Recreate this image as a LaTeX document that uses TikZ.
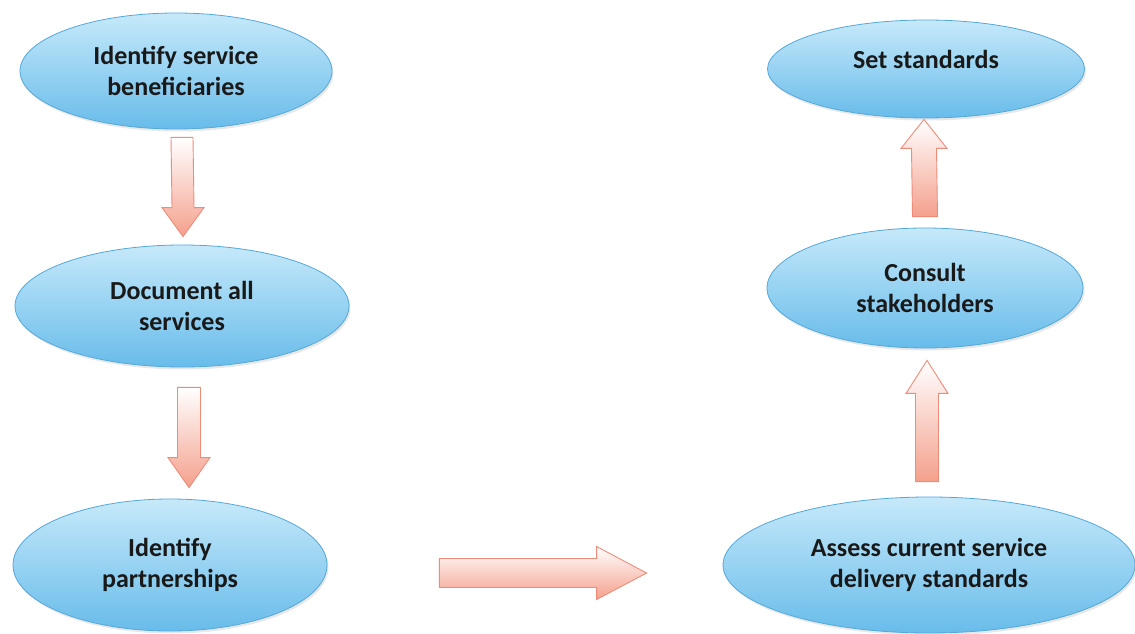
\documentclass[tikz,border=0pt]{standalone}
\usepackage{fontspec}
\setmainfont{Carlito}
\usetikzlibrary{shapes.geometric,calc,shadows}
\definecolor{eltop}{RGB}{198,233,250}
\definecolor{elbot}{RGB}{104,188,234}
\definecolor{elline}{RGB}{84,168,218}
\definecolor{arrfill}{RGB}{244,160,140}
\definecolor{arrline}{RGB}{238,140,122}
\definecolor{txt}{RGB}{25,25,25}
\tikzset{
  oval/.style={ellipse, draw=elline, line width=0.8pt, top color=eltop, bottom color=elbot,
    inner sep=0pt, align=center, text=txt, font=\bfseries\fontsize{26}{31}\selectfont,
    drop shadow={opacity=0.18, shadow xshift=1.5pt, shadow yshift=-2.5pt}},
  fatarrow/.style={draw=arrline, line width=0.9pt, line join=miter, top color=white, bottom color=arrfill},
  fatarrowb/.style={draw=arrline, line width=0.9pt, line join=miter, top color=white, middle color=white, bottom color=arrfill},
}
% #1 start, #2 tip, #3 shaft half width, #4 head half width, #5 head length
\newcommand\fatdown[6][fatarrow]{\path[#1] ($(#2)+(-#4,0)$) -- ($(#2)+(#4,0)$) -- ($(#3)+(#4,-#6)$) -- ($(#3)+(#5,-#6)$) -- (#3) -- ($(#3)+(-#5,-#6)$) -- ($(#3)+(-#4,-#6)$) -- cycle;}
\newcommand\fatup[6][fatarrow]{\path[#1] ($(#2)+(-#4,0)$) -- ($(#2)+(#4,0)$) -- ($(#3)+(#4,#6)$) -- ($(#3)+(#5,#6)$) -- (#3) -- ($(#3)+(-#5,#6)$) -- ($(#3)+(-#4,#6)$) -- cycle;}
\newcommand\fatright[6][fatarrow]{\path[#1] ($(#2)+(0,-#4)$) -- ($(#3)+(-#6,-#4)$) -- ($(#3)+(-#6,-#5)$) -- (#3) -- ($(#3)+(-#6,#5)$) -- ($(#3)+(-#6,#4)$) -- ($(#2)+(0,#4)$) -- cycle;}
\begin{document}
\begin{tikzpicture}[x=1pt,y=-1pt]
\useasboundingbox (0,0) rectangle (1135,634);
\fill[white] (0,0) rectangle (1135,634);

\node[oval, minimum width=312pt, minimum height=116pt] (e1) at (176,71) {Identify service\\beneficiaries};
\node[oval, minimum width=334pt, minimum height=122pt] (e2) at (182,306) {Document all\\services};
\node[oval, minimum width=314pt, minimum height=132pt] (e3) at (170,565) {Identify\\partnerships};
\node[oval, minimum width=412pt, minimum height=136pt] (e4) at (929,565) {Assess current service\\delivery standards};
\node[oval, minimum width=316pt, minimum height=120pt] (e5) at (925,288) {Consult\\stakeholders};
\node[oval, minimum width=317pt, minimum height=98pt] (e6) at (926,69) {\raisebox{1pt}[0pt][0pt]{Set standards}};

\coordinate (a1s) at ($(e1.south)+(6,8)$);
\coordinate (a1e) at ($(e2.north)+(1,-8)$);
\coordinate (a2s) at ($(e2.south)+(7,20)$);
\coordinate (a2e) at ($(e3.north)+(19,-11)$);
\coordinate (a3s) at ($(e3.east)+(112,8)$);
\coordinate (a3e) at ($(e4.west)+(-76,8)$);
\coordinate (a4s) at ($(e4.north)+(-2,-15)$);
\coordinate (a4e) at ($(e5.south)+(2,12)$);
\coordinate (a5s) at ($(e5.north)+(0,-11)$);
\coordinate (a5e) at ($(e6.south)+(-2,1)$);

\fatdown{a1s}{a1e}{11}{21}{29}
\fatdown[fatarrowb]{a2s}{a2e}{11.5}{21}{30}
\fatright{a3s}{a3e}{14.5}{26.5}{50}
\fatup{a4s}{a4e}{11.5}{21}{33}
\fatup{a5s}{a5e}{12.5}{23}{29}
\end{tikzpicture}
\end{document}
